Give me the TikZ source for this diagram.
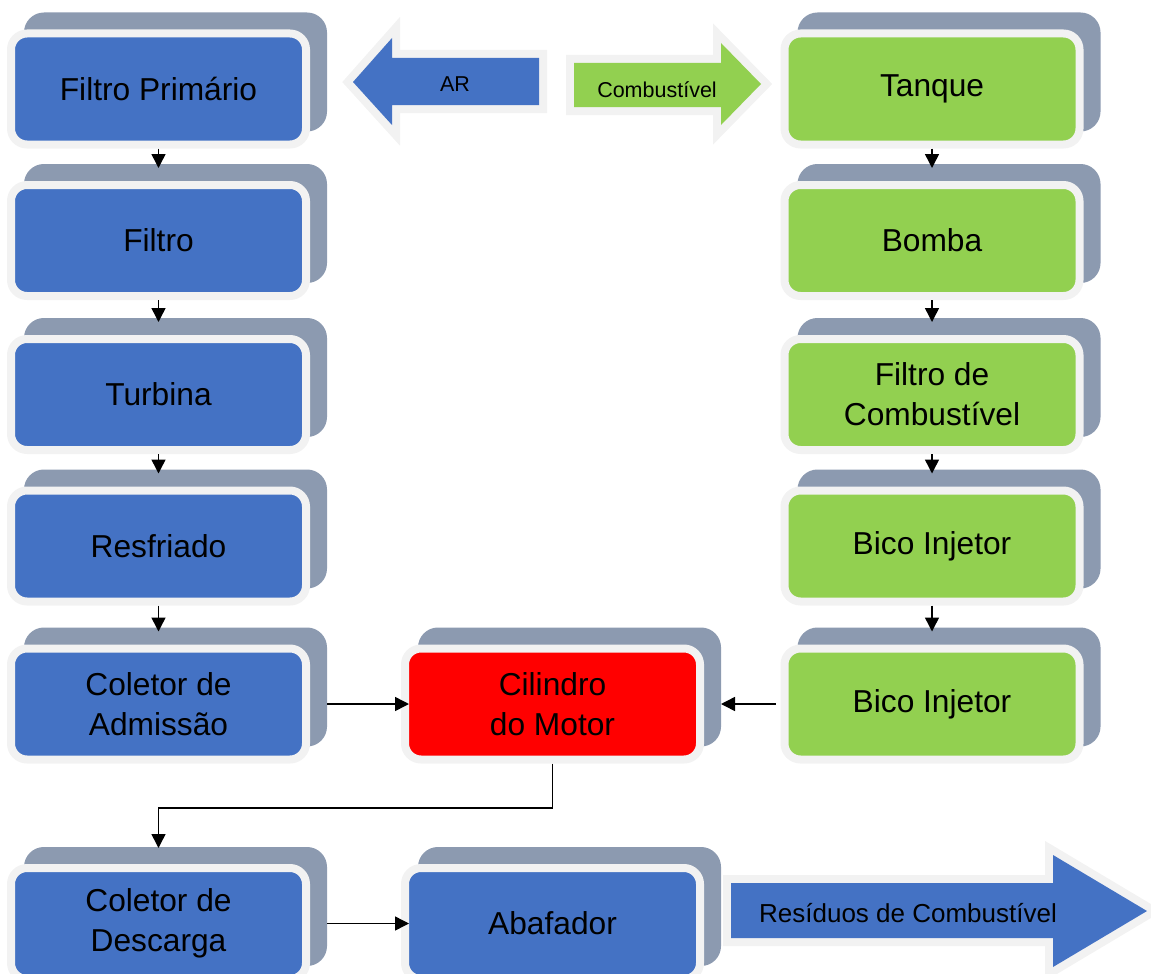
\documentclass[tikz,border=0pt]{standalone}
\usepackage{fontspec}
\setmainfont{Liberation Sans}
\usetikzlibrary{arrows.meta,shadows}

\definecolor{azul}{HTML}{4472C4}
\definecolor{verde}{HTML}{92D050}
\definecolor{vermelho}{HTML}{FF0000}
\definecolor{sombra}{HTML}{8C9AB0}
\definecolor{borda}{HTML}{F2F2F2}

\begin{document}
\begin{tikzpicture}[x=1pt, y=-1pt,
    bloco/.style={draw=borda, line width=8pt, rounded corners=16pt,
        minimum width=295pt, minimum height=111pt, inner sep=0pt, align=center,
        font=\fontsize{31.7}{40}\selectfont,
        copy shadow={shadow xshift=17pt, shadow yshift=17pt, fill=sombra, draw=sombra, line width=8pt}},
    seta/.style={line width=1.5pt, -{Triangle[length=14pt,width=14pt]}},
    setagrande/.style={line join=miter, preaction={draw=borda, line width=16pt, line join=miter}}]

    \useasboundingbox (0,0) rectangle (1151,974);

    % constants
    \def\xa{158.5}
    \def\xb{552.5}
    \def\xc{932}
    \def\ya{89}
    \def\yb{240.5}
    \def\yc{394.5}
    \def\yd{546}
    \def\ye{704}
    \def\yf{923.5}

    % ar
    \node [bloco, fill=azul] (primario) at (\xa,\ya) {Filtro Primário};
    \node [bloco, fill=azul] (filtro) at (\xa,\yb) {Filtro};
    \node [bloco, fill=azul] (turbina) at (\xa,\yc) {Turbina};
    \node [bloco, fill=azul] (resfriado) at (\xa,\yd) {Resfriado};
    \node [bloco, fill=azul] (admissao) at (\xa,\ye) {Coletor de\\Admissão};

    % combustivel
    \node [bloco, fill=verde] (tanque) at (\xc,\ya) {Tanque};
    \node [bloco, fill=verde] (bomba) at (\xc,\yb) {Bomba};
    \node [bloco, fill=verde] (filtrocomb) at (\xc,\yc) {Filtro de\\Combustível};
    \node [bloco, fill=verde] (bicoa) at (\xc,\yd) {Bico Injetor};
    \node [bloco, fill=verde] (bicob) at (\xc,\ye) {Bico Injetor};

    % motor e escape
    \node [bloco, fill=vermelho] (cilindro) at (\xb,\ye) {Cilindro\\do Motor};
    \node [bloco, fill=azul] (descarga) at (\xa,\yf) {Coletor de\\Descarga};
    \node [bloco, fill=azul] (abafador) at (\xb,\yf) {Abafador};

    % setas grandes
    \fill [setagrande, azul] (539,58) -- (392,58) -- (392,38) -- (353,82) -- (392,125) -- (392,105) -- (539,105) -- cycle;
    \node [anchor=base, font=\fontsize{21.5}{26}\selectfont] (ar) at (455,92) {AR};

    \fill [setagrande, verde] (574,63) -- (721,63) -- (721,43) -- (761,84) -- (721,125) -- (721,107) -- (574,107) -- cycle;
    \node [anchor=base, font=\fontsize{21.5}{26}\selectfont] (comb) at (657,97) {Combustível};

    \fill [setagrande, azul] (731,883) -- (1053,883) -- (1053,855) -- (1147,911) -- (1053,967) -- (1053,938) -- (731,938) -- cycle;
    \node [anchor=base, font=\fontsize{26}{30}\selectfont] (residuos) at (908,922) {Resíduos de Combustível};

    % ligacoes
    \foreach \a/\b in {primario/filtro, filtro/turbina, turbina/resfriado, resfriado/admissao,
                       tanque/bomba, bomba/filtrocomb, filtrocomb/bicoa, bicoa/bicob}
        \draw [seta, shorten >=13pt] (\a.south) -- (\b.north);

    \draw [seta, shorten <=17pt, shorten >=-8pt] (admissao.east) -- (cilindro.west);
    \draw [seta, shorten <=5pt, shorten >=17pt] (bicob.west) -- (cilindro.east);
    \coordinate (dobra) at (\xb,808);
    \draw [seta, shorten >=16pt] (cilindro.south) -- (dobra) -| (descarga.north);
    \draw [seta, shorten <=17pt, shorten >=-8pt] (descarga.east) -- (abafador.west);

\end{tikzpicture}
\end{document}
